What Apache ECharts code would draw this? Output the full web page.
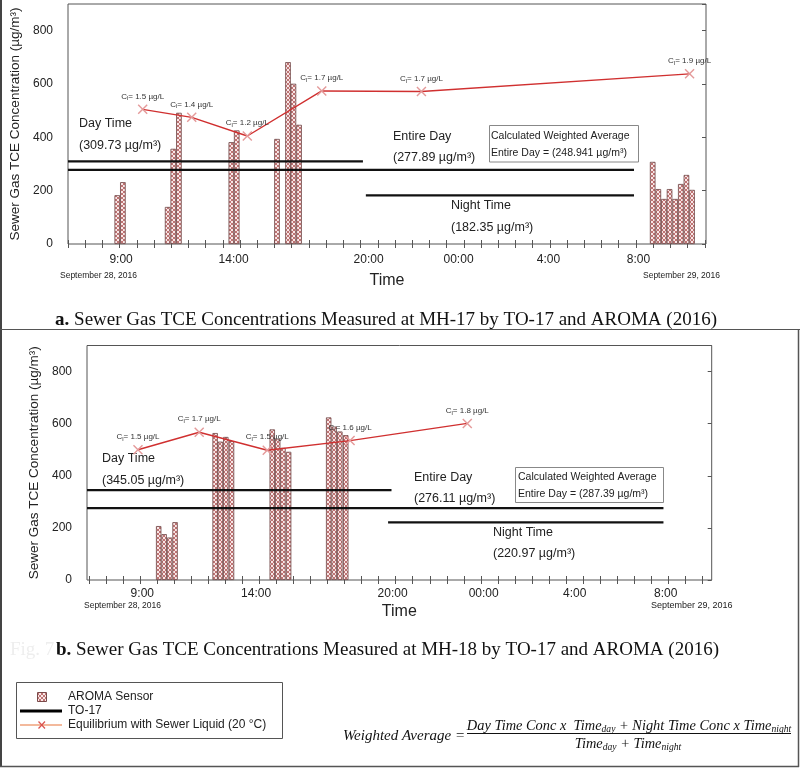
<!DOCTYPE html>
<html><head><meta charset="utf-8">
<script src="https://cdn.jsdelivr.net/npm/echarts@6/dist/echarts.min.js"></script>
<style>html,body{margin:0;padding:0;background:#fff}#c{width:800px;height:768px}</style>
</head><body><div id="c"></div>
<script>
// ================= DATA =================
// x is hours since midnight, September 28, 2016
const xTickHours  = [9, 14, 20, 24, 28, 32];
const xTickLabels = ['9:00', '14:00', '20:00', '00:00', '4:00', '8:00'];
const yTickValues = [0, 200, 400, 600, 800];

// (a) MH-17
const aBarHours  = [8.83, 9.08, 11.07, 11.32, 11.57, 13.90, 14.14, 15.93, 16.42, 16.66, 16.91,
                    32.63, 32.88, 33.13, 33.38, 33.63, 33.88, 34.13, 34.38];
const aBarValues = [183, 232, 139, 357, 492, 382, 426, 394, 682, 601, 447,
                    308, 206, 169, 206, 169, 225, 259, 203];
const aEqHours   = [9.96, 12.14, 14.61, 17.92, 22.35, 34.27];
const aEqValues  = [505, 475, 405, 574, 572, 638];
const aEqCl      = ['1.5', '1.4', '1.2', '1.7', '1.7', '1.9'];
const aTO17      = [309.73, 277.89, 182.35];          // day, entire day, night
const aTO17Spans = [[6.64, 19.75], [6.64, 31.8], [19.88, 31.8]];
const aWeighted  = '248.941';

// (b) MH-18
const bBarHours  = [9.72, 9.96, 10.20, 10.44, 12.20, 12.43, 12.67, 12.92,
                    14.71, 14.95, 15.18, 15.43, 17.19, 17.43, 17.68, 17.94];
const bBarValues = [207, 176, 163, 222, 564, 531, 549, 533,
                    578, 542, 507, 492, 624, 589, 570, 556];
const bEqHours   = [8.81, 11.50, 14.49, 18.13, 23.28];
const bEqValues  = [500, 567, 498, 535, 601];
const bEqCl      = ['1.5', '1.7', '1.5', '1.6', '1.8'];
const bTO17      = [345.05, 276.11, 220.97];
const bTO17Spans = [[6.57, 19.95], [6.57, 31.9], [19.8, 31.9]];
const bWeighted  = '287.39';

// ================= STYLE =================
const SANS = '"Liberation Sans", Arial, sans-serif';
const SERIF = '"Liberation Serif", "Times New Roman", serif';
const TXT = '#222';

function makePattern() {
  const c = document.createElement('canvas');
  c.width = 4; c.height = 4;
  const g = c.getContext('2d');
  g.fillStyle = '#f8e6e6'; g.fillRect(0, 0, 4, 4);
  g.fillStyle = '#bf7474';
  [[0,0],[1,1],[2,2],[3,3],[0,3],[1,2],[2,1],[3,0]].forEach(p => g.fillRect(p[0], p[1], 1, 1));
  return c;
}
const pattern = { image: makePattern(), repeat: 'repeat' };

const X_PATH = 'path://M1,0 L5,4 L9,0 L10,1 L6,5 L10,9 L9,10 L5,6 L1,10 L0,9 L4,5 L0,1 Z';

function minorTicks(start, step, count) {
  const a = []; for (let k = 0; k < count; k++) a.push(+(start + k * step).toFixed(4)); return a;
}
const aMinor = minorTicks(6.64, 0.765, 38);
const bMinor = minorTicks(6.658, 0.7487, 37);

function hourLabel(v) {
  for (let i = 0; i < xTickHours.length; i++) if (Math.abs(xTickHours[i] - v) < 1e-6) return xTickLabels[i];
  return '';
}

function xAxes(gi, min, max, minor, margin, nameGap) {
  return [
    { gridIndex: gi, type: 'value', min: min, max: max, position: 'bottom',
      axisLine: { show: false }, splitLine: { show: false },
      axisTick: { show: true, inside: true, length: 4, customValues: minor, lineStyle: { color: '#555', width: 1 } },
      axisLabel: { customValues: xTickHours, formatter: hourLabel, fontSize: 12, color: TXT, fontFamily: SANS, margin: margin },
      name: 'Time', nameLocation: 'middle', nameGap: nameGap,
      nameTextStyle: { fontSize: 16, color: TXT, fontFamily: SANS } },
    { gridIndex: gi, type: 'value', min: min, max: max, position: 'top',
      axisLine: { show: false }, splitLine: { show: false },
      axisTick: { show: true, inside: true, length: 4, customValues: minor, lineStyle: { color: '#555', width: 1 } },
      axisLabel: { show: false } }
  ];
}
function yAxes(gi, nameGap) {
  return [
    { gridIndex: gi, type: 'value', min: 0, max: 900, interval: 200,
      axisLine: { show: false }, axisTick: { show: false }, splitLine: { show: false },
      axisLabel: { customValues: yTickValues, fontSize: 12, color: TXT, fontFamily: SANS, margin: 15 },
      name: 'Sewer Gas TCE Concentration (µg/m³)', nameLocation: 'middle', nameGap: nameGap,
      nameTextStyle: { fontSize: 13.5, color: TXT, fontFamily: SANS } },
    { gridIndex: gi, type: 'value', min: 0, max: 900, interval: 200, position: 'right',
      axisLine: { show: false }, splitLine: { show: false },
      axisTick: { show: true, inside: true, length: 4, lineStyle: { color: '#555' } },
      axisLabel: { show: false } }
  ];
}

function panelSeries(xi, yi, barH, barV, barW, eqH, eqV, eqCl, to17, spans) {
  const s = [];
  s.push({ name: 'AROMA Sensor', type: 'bar', xAxisIndex: xi, yAxisIndex: yi,
    data: barH.map((h, i) => [h, barV[i]]), barWidth: barW, z: 2, silent: true,
    itemStyle: { color: pattern, borderColor: '#6e4646', borderWidth: 0.8 } });
  to17.forEach((v, i) => s.push({ name: 'TO-17', type: 'line', xAxisIndex: xi, yAxisIndex: yi,
    data: [[spans[i][0], v], [spans[i][1], v]], symbol: 'none', z: 3, silent: true,
    lineStyle: { color: '#111', width: 2.2 } }));
  s.push({ name: 'Equilibrium with Sewer Liquid (20 °C)', type: 'line', xAxisIndex: xi, yAxisIndex: yi,
    data: eqH.map((h, i) => [h, eqV[i]]), z: 4, silent: true,
    symbol: X_PATH, symbolSize: 10,
    itemStyle: { color: '#e49a9a' },
    lineStyle: { color: '#d03030', width: 1.4 },
    label: { show: true, position: 'top', distance: 3,
      formatter: p => '{c|C}{s|l}{c|= ' + eqCl[p.dataIndex] + ' µg/L}',
      rich: { c: { fontSize: 8, color: '#333', fontFamily: SANS, lineHeight: 10 },
              s: { fontSize: 6, color: '#333', fontFamily: SANS, lineHeight: 10, padding: [5, 0, 0, 0] } } } });
  return s;
}

function T(text, x, y, size, opt) {
  opt = opt || {};
  return { type: 'text', silent: true, style: Object.assign({ text: text, x: x, y: y,
    fill: opt.fill || TXT, font: (opt.style || '') + ' ' + size + 'px ' + (opt.family || SANS),
    align: opt.align || 'left', verticalAlign: 'middle' }, opt.extra || {}) };
}
function L(x1, y1, x2, y2, color, w) {
  return { type: 'line', silent: true, shape: { x1, y1, x2, y2 }, style: { stroke: color, lineWidth: w } };
}
function R(x, y, w, h, stroke, fill) {
  return { type: 'rect', silent: true, shape: { x, y, width: w, height: h }, style: { stroke: stroke, fill: fill || 'transparent', lineWidth: 1 } };
}
function caption(letter, rest, x, y) {
  return { type: 'text', silent: true, style: { text: '{b|' + letter + '} ' + rest,
      x: x, y: y, align: 'right', verticalAlign: 'middle', fill: '#111', font: '19px ' + SERIF,
      rich: { b: { fontWeight: 'bold', fontSize: 19, fontFamily: SERIF, fill: '#111' } } } };
}
const FSUB = { s: { fontSize: 9.6, fontStyle: 'italic', fontFamily: SERIF, fill: '#111', padding: [7, 0, 0, 0] } };

const graphics = [
  // frame
  L(1, 0, 1, 767, '#444', 2), L(0, 329.5, 800, 329.5, '#555', 1),
  L(798.5, 329.5, 798.5, 767, '#555', 1.5), L(0, 766.5, 799, 766.5, '#555', 1.5),

  // ---- panel a annotations
  T('Day Time', 79, 124, 12.5), T('(309.73 µg/m³)', 79, 146, 12.5),
  T('Entire Day', 393, 137, 12.5), T('(277.89 µg/m³)', 393, 158, 12.5),
  T('Night Time', 451, 206, 12.5), T('(182.35 µg/m³)', 451, 228, 12.5),
  R(489.5, 125.5, 149, 36.5, '#888'),
  T('Calculated Weighted Average', 491, 136, 10.5),
  T('Entire Day = (' + aWeighted + ' µg/m³)', 491, 153, 10.5),
  T('September 28, 2016', 60, 276, 8.5), T('September 29, 2016', 643, 276, 8.5),
  caption('a.', 'Sewer Gas TCE Concentrations Measured at MH-17 by TO-17 and AROMA (2016)', 717, 320),

  // ---- panel b annotations
  T('Day Time', 102, 459, 12.5), T('(345.05 µg/m³)', 102, 481, 12.5),
  T('Entire Day', 414, 478, 12.5), T('(276.11 µg/m³)', 414, 499, 12.5),
  T('Night Time', 493, 533, 12.5), T('(220.97 µg/m³)', 493, 554, 12.5),
  R(515.5, 467.5, 148, 35, '#888'),
  T('Calculated Weighted Average', 518, 477, 10.5),
  T('Entire Day = (' + bWeighted + ' µg/m³)', 518, 494, 10.5),
  T('September 28, 2016', 84, 605.5, 8.5), T('September 29, 2016', 651, 606, 9),
  T('Fig. 7', 10, 650, 19, { family: SERIF, fill: '#eeeeee' }),
  caption('b.', 'Sewer Gas TCE Concentrations Measured at MH-18 by TO-17 and AROMA (2016)', 719, 650),

  // ---- legend
  R(16.5, 682.5, 266, 56, '#555', '#fff'),
  { type: 'rect', silent: true, shape: { x: 37.5, y: 692.5, width: 9, height: 9 }, style: { fill: pattern, stroke: '#7a4a4a', lineWidth: 1 } },
  T('AROMA Sensor', 68, 697, 12),
  L(20, 711, 62, 711, '#000', 3),
  T('TO-17', 68, 711, 12),
  L(20, 725, 62, 725, '#e8743b', 1.2),
  L(38.5, 721.5, 45, 728.5, '#d9534f', 1.2), L(45, 721.5, 38.5, 728.5, '#d9534f', 1.2),
  T('Equilibrium with Sewer Liquid (20 °C)', 68, 725, 12),

  // ---- formula
  T('Weighted Average =', 465, 736, 15, { family: SERIF, style: 'italic', align: 'right', fill: '#111' }),
  { type: 'text', silent: true, style: { text: 'Day Time Conc x  Time{s|day} + Night Time Conc x Time{s|night}',
      x: 629, y: 726, align: 'center', verticalAlign: 'middle', fill: '#111', font: 'italic 14.4px ' + SERIF, rich: FSUB } },
  L(467, 733.5, 791, 733.5, '#111', 1),
  { type: 'text', silent: true, style: { text: 'Time{s|day} + Time{s|night}',
      x: 628, y: 744, align: 'center', verticalAlign: 'middle', fill: '#111', font: 'italic 14.4px ' + SERIF, rich: FSUB } }
];

const option = {
  animation: false,
  backgroundColor: '#fff',
  grid: [
    { left: 68, top: 4, width: 638, height: 240, show: true, borderColor: '#555', borderWidth: 1, containLabel: false },
    { left: 87, top: 345.5, width: 624.7, height: 234.5, show: true, borderColor: '#555', borderWidth: 1, containLabel: false }
  ],
  xAxis: [].concat(xAxes(0, 6.64, 35.0, aMinor, 10, 29), xAxes(1, 6.57, 34.02, bMinor, 8, 24)),
  yAxis: [].concat(yAxes(0, 46), yAxes(1, 37)),
  series: [].concat(
    panelSeries(0, 0, aBarHours, aBarValues, 5.6, aEqHours, aEqValues, aEqCl, aTO17, aTO17Spans),
    panelSeries(2, 2, bBarHours, bBarValues, 5.4, bEqHours, bEqValues, bEqCl, bTO17, bTO17Spans)
  ),
  graphic: graphics
};

const chart = echarts.init(document.getElementById('c'), null, { renderer: 'canvas', width: 800, height: 768 });
chart.setOption(option);
</script>
</body></html>
